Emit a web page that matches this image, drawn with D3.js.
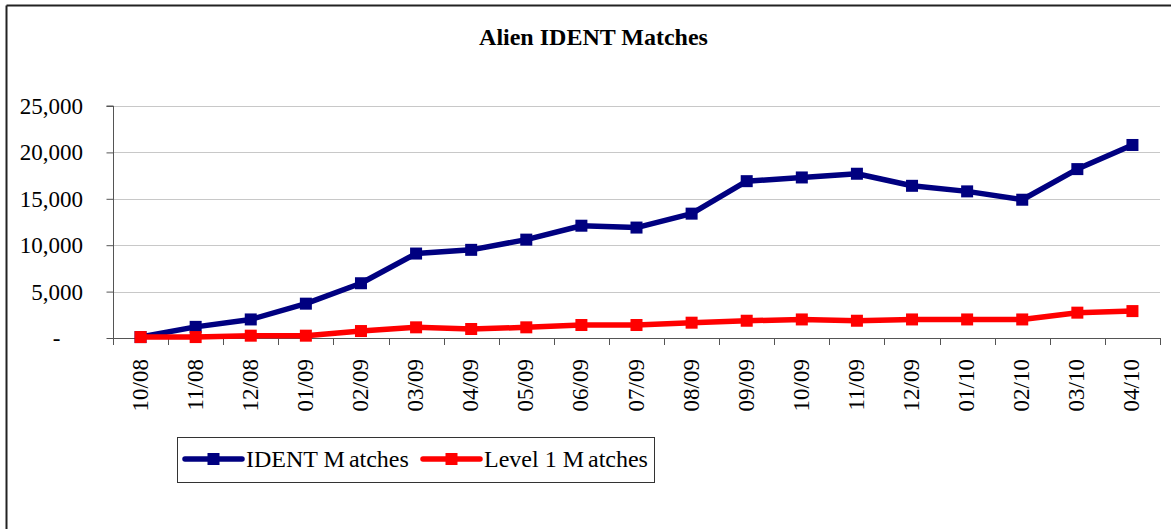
<!DOCTYPE html>
<html>
<head>
<meta charset="utf-8">
<script src="https://cdn.jsdelivr.net/npm/d3@7"></script>
<style>
  html, body { margin: 0; padding: 0; background: #fff; }
  svg { display: block; }
  svg text { font-family: "Liberation Serif", Tinos, "Times New Roman", Times, "DejaVu Serif", serif !important; fill: #000; }
</style>
</head>
<body>
<script>
const categories = ["10/08","11/08","12/08","01/09","02/09","03/09","04/09","05/09","06/09","07/09","08/09","09/09","10/09","11/09","12/09","01/10","02/10","03/10","04/10"];
const identMatches = [100, 1200, 2000, 3700, 5900, 9100, 9500, 10600, 12100, 11900, 13400, 16900, 17300, 17700, 16400, 15800, 14900, 18200, 20800];
const level1Matches = [100, 100, 250, 250, 750, 1150, 970, 1150, 1400, 1400, 1650, 1860, 2000, 1860, 2000, 2000, 2000, 2730, 2900];
const yTicks = [0, 5000, 10000, 15000, 20000, 25000];
const seriesNames = ["IDENT Matches", "Level 1 Matches"];
const seriesColors = ["#000080", "#ff0000"];

(function () {
const W = 1171, H = 529;
const FONT = "'Liberation Serif', Tinos, 'Times New Roman', Times, 'DejaVu Serif', serif";
const svg = d3.select("body").append("svg").attr("width", W).attr("height", H)
  .attr("font-family", FONT);

// outer frame (top and left edges visible)
svg.append("line").attr("x1", 6.5).attr("x2", W).attr("y1", 5.5).attr("y2", 5.5)
  .attr("stroke", "#222").attr("stroke-width", 2);
svg.append("line").attr("x1", 6.5).attr("x2", 6.5).attr("y1", 5.5).attr("y2", H)
  .attr("stroke", "#222").attr("stroke-width", 2);

// title
svg.append("text").attr("x", 593.5).attr("y", 45).attr("text-anchor", "middle")
  .attr("font-size", 24).attr("font-weight", "bold")
  .text("Alien IDENT Matches");

const pl = 113, pr = 1160, pt = 106, pb = 338;
const x = d3.scaleBand().domain(categories).range([pl, pr]);
const y = d3.scaleLinear().domain([0, 25000]).range([pb, pt]);

// gridlines
svg.append("g").selectAll("line").data(yTicks.filter(d => d > 0)).join("line")
  .attr("x1", pl).attr("x2", pr)
  .attr("y1", d => Math.round(y(d)) + 0.5).attr("y2", d => Math.round(y(d)) + 0.5)
  .attr("stroke", "#c8c8c8").attr("stroke-width", 1);

// y axis
const yAxis = d3.axisLeft(y).tickValues(yTicks).tickSize(7).tickPadding(23.5)
  .tickFormat(d => d === 0 ? "-" : d3.format(",")(d));
const gy = svg.append("g").attr("transform", `translate(${pl + 0.5},0)`).call(yAxis)
  .attr("font-family", FONT);
gy.select(".domain").attr("stroke", "#555").attr("d", `M-7,${pt}H0V${pb}`);
gy.selectAll(".tick line").attr("stroke", "#555");
gy.selectAll(".tick text").attr("font-size", 23).attr("dy", "0.33em");
gy.selectAll(".tick").filter(d => d === 0).select("text").attr("x", -53);

// x axis
const boundaries = categories.map(c => x(c)).concat([pr]);
svg.append("line").attr("x1", pl).attr("x2", pr).attr("y1", pb + 0.5).attr("y2", pb + 0.5)
  .attr("stroke", "#555");
svg.append("g").selectAll("line").data(boundaries).join("line")
  .attr("x1", d => Math.round(d) + 0.5).attr("x2", d => Math.round(d) + 0.5)
  .attr("y1", pb).attr("y2", pb + 7).attr("stroke", "#555");
svg.append("g").selectAll("text").data(categories).join("text")
  .attr("transform", d => `translate(${x(d) + x.bandwidth() / 2 + 7},${pb + 21}) rotate(-90)`)
  .attr("text-anchor", "end").attr("font-size", 23)
  .text(d => d);

// series
const line = d3.line().x((d, i) => x(categories[i]) + x.bandwidth() / 2).y(d => y(d));
[identMatches, level1Matches].forEach((vals, si) => {
  const g = svg.append("g");
  g.append("path").datum(vals).attr("d", line).attr("fill", "none")
    .attr("stroke", seriesColors[si]).attr("stroke-width", 5.5).attr("stroke-linejoin", "round");
  g.selectAll("rect").data(vals).join("rect")
    .attr("x", (d, i) => x(categories[i]) + x.bandwidth() / 2 - 6)
    .attr("y", d => y(d) - 6).attr("width", 12).attr("height", 12)
    .attr("fill", seriesColors[si]);
});

// legend
const lg = svg.append("g");
lg.append("rect").attr("x", 177.5).attr("y", 437.5).attr("width", 477).attr("height", 45)
  .attr("fill", "#fff").attr("stroke", "#333").attr("stroke-width", 1);
const legendItems = [
  { x0: 185, x1: 242, tx: 246 },
  { x0: 423, x1: 480, tx: 484 }
];
legendItems.forEach((it, i) => {
  lg.append("line").attr("x1", it.x0).attr("x2", it.x1).attr("y1", 459).attr("y2", 459)
    .attr("stroke", seriesColors[i]).attr("stroke-width", 5.5).attr("stroke-linecap", "round");
  lg.append("rect").attr("x", (it.x0 + it.x1) / 2 - 6).attr("y", 453).attr("width", 12).attr("height", 12)
    .attr("fill", seriesColors[i]);
  const name = seriesNames[i];
  const cut = name.lastIndexOf("M") + 1;
  const t = lg.append("text").attr("x", it.tx).attr("y", 467).attr("font-size", 24);
  t.append("tspan").text(name.slice(0, cut));
  t.append("tspan").attr("dx", 4).text(name.slice(cut));
});
})();
</script>
</body>
</html>
